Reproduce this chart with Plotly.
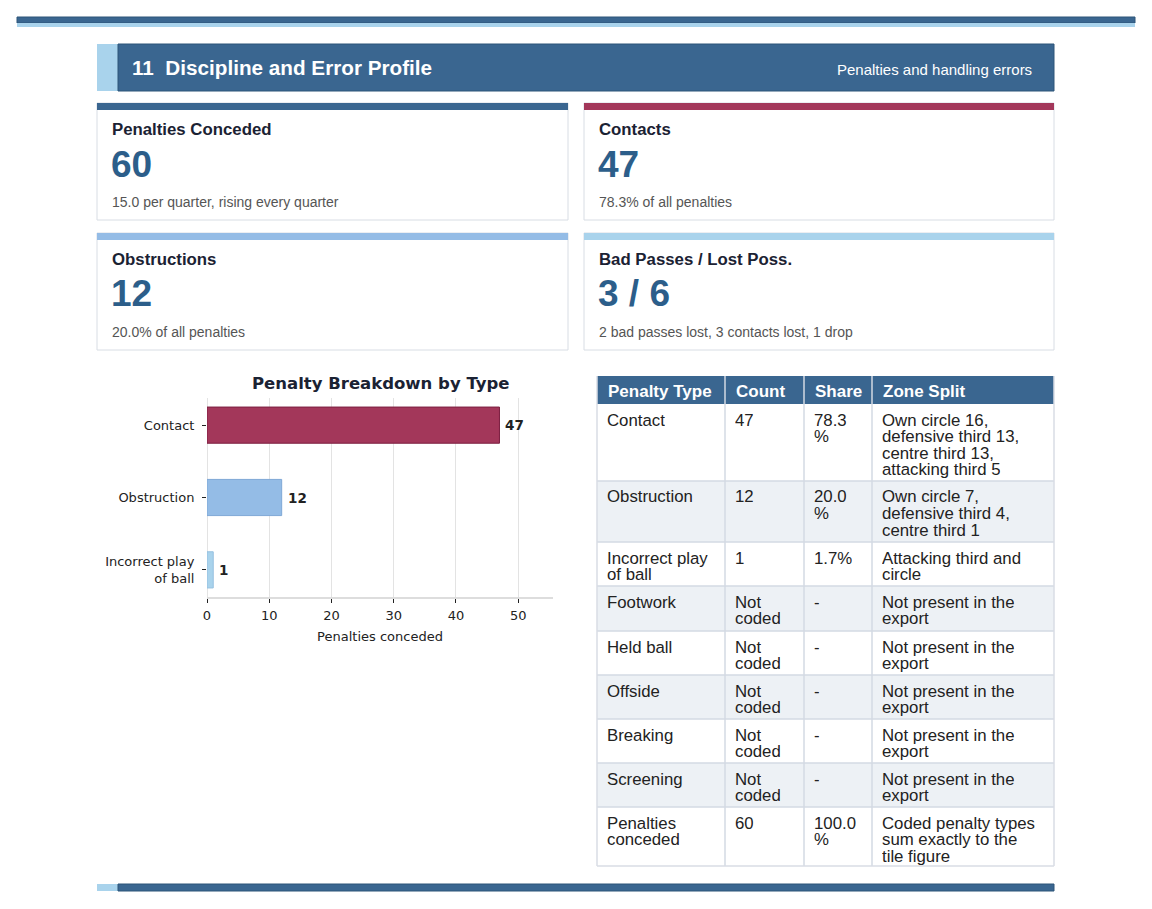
import plotly.graph_objects as go

W, H = 1152, 909

# section header
section_title = "11\u00a0\u00a0Discipline and Error Profile"
section_sub = "Penalties and handling errors"

# kpi tiles
kpi_titles = ["Penalties Conceded", "Contacts", "Obstructions", "Bad Passes / Lost Poss."]
kpi_values = ["60", "47", "12", "3 / 6"]
kpi_notes = ["15.0 per quarter, rising every quarter", "78.3% of all penalties",
             "20.0% of all penalties", "2 bad passes lost, 3 contacts lost, 1 drop"]
kpi_colors = ["#3A6690", "#A3375A", "#94BCE6", "#A9D3EC"]

# bar chart
penalty_types = ["Contact", "Obstruction", "Incorrect play<br>of ball"]
penalty_counts = [47, 12, 1]
bar_colors = ["#A3375A", "#94BCE6", "#A9D3EC"]
bar_edges = ["#7C1F40", "#7FA8D6", "#95C0E0"]

# table
table_header = ["Penalty Type", "Count", "Share", "Zone Split"]
table_type = ["Contact", "Obstruction", "Incorrect play<br>of ball", "Footwork", "Held ball",
              "Offside", "Breaking", "Screening", "Penalties<br>conceded"]
table_count = ["47", "12", "1", "Not<br>coded", "Not<br>coded", "Not<br>coded", "Not<br>coded",
               "Not<br>coded", "60"]
table_share = ["78.3<br>%", "20.0<br>%", "1.7%", "-", "-", "-", "-", "-", "100.0<br>%"]
table_zone = ["Own circle 16,<br>defensive third 13,<br>centre third 13,<br>attacking third 5",
              "Own circle 7,<br>defensive third 4,<br>centre third 1",
              "Attacking third and<br>circle",
              "Not present in the<br>export", "Not present in the<br>export",
              "Not present in the<br>export", "Not present in the<br>export",
              "Not present in the<br>export",
              "Coded penalty types<br>sum exactly to the<br>tile figure"]

NAVY = "#3A6690"
VALUE_BLUE = "#2C5E8A"
DARK = "#1B2233"
SANS = "Liberation Sans, Arial, sans-serif"
DJV = "DejaVu Sans, sans-serif"


def fx(px):
    return px / W


def fy(py):
    return 1 - py / H


shapes = []
annotations = []


def rect(x0, y0, x1, y1, fill, line=None, lw=1):
    shapes.append(dict(type="rect", xref="paper", yref="paper",
                       x0=fx(x0), x1=fx(x1), y0=fy(y1), y1=fy(y0),
                       fillcolor=fill, layer="below",
                       line=dict(color=line or fill, width=lw if line else 0)))


def text(px, py, s, size, color=DARK, bold=False, family=SANS, anchor="left", **kw):
    annotations.append(dict(xref="paper", yref="paper", x=fx(px), y=fy(py),
                            text="<b>%s</b>" % s if bold else s, showarrow=False,
                            xanchor=anchor, yanchor="middle",
                            font=dict(size=size, color=color, family=family), **kw))


# top rule
rect(17, 17, 1135, 23, NAVY, "#2C5478")
rect(17, 23, 1135, 27, "#A9D3EC")

# section header
rect(97, 44, 118, 91, "#A9D3EC")
rect(118, 44, 1054, 91, NAVY, "#2C5478")
text(130, 68, section_title, 20.7, "white", bold=True)
text(1034, 69, section_sub, 15, "white", anchor="right")

# kpi tiles
card_x = [(97, 568), (584, 1054)]
card_y = [103, 233]
for i in range(4):
    x0, x1 = card_x[i % 2]
    top = card_y[i // 2]
    rect(x0, top, x1, top + 117, "white", "#D8DDE4")
    rect(x0, top, x1, top + 7, kpi_colors[i])
    text(x0 + 13, top + 26, kpi_titles[i], 16.8, DARK, bold=True)
    text(x0 + 12, top + 61, kpi_values[i], 37, VALUE_BLUE, bold=True)
    text(x0 + 13, top + 99, kpi_notes[i], 14, "#555555")

# table
col_x = [597, 725, 804, 872, 1054]
head_top, head_h = 376, 28
row_h = [77, 61, 44, 45, 44, 44, 44, 44, 59]
columns = [table_type, table_count, table_share, table_zone]

rect(col_x[0], head_top, col_x[-1], head_top + head_h, NAVY)
for c, h in enumerate(table_header):
    text(col_x[c] + 9, head_top + 15, h, 17, "white", bold=True)

y = head_top + head_h
for r, rh in enumerate(row_h):
    rect(col_x[0], y, col_x[-1], y + rh, "#EDF1F5" if r % 2 else "white")
    for c, col in enumerate(columns):
        for k, line in enumerate(col[r].split("<br>")):
            # tight line boxes so stacked lines sit 16.5px apart like the reference
            text(col_x[c] + 9, y + 17 + k * 16.5, line, 16.8, "#222222",
                 height=16.5, valign="bottom", borderpad=0)
    y += rh
table_bottom = y

# table grid lines
y = head_top + head_h
for rh in row_h[:-1]:
    y += rh
    shapes.append(dict(type="line", xref="paper", yref="paper", x0=fx(col_x[0]), x1=fx(col_x[-1]),
                       y0=fy(y), y1=fy(y), line=dict(color="#D3DAE3", width=1.5)))
for cx in col_x:
    shapes.append(dict(type="line", xref="paper", yref="paper", x0=fx(cx), x1=fx(cx),
                       y0=fy(head_top), y1=fy(table_bottom),
                       line=dict(color="#D3DAE3" if cx not in (col_x[0], col_x[-1]) else "#D8DDE4",
                                 width=1.5)))
shapes.append(dict(type="line", xref="paper", yref="paper", x0=fx(col_x[0]), x1=fx(col_x[-1]),
                   y0=fy(table_bottom), y1=fy(table_bottom), line=dict(color="#D8DDE4", width=1.5)))

# bottom rule
rect(97, 884, 118, 891, "#A9D3EC")
rect(118, 884, 1054, 891, NAVY, "#2C5478")

# chart title
text(380, 383, "Penalty Breakdown by Type", 16.5, DARK, bold=True, family=DJV, anchor="center")

# bar value labels
for cat, v in zip(penalty_types, penalty_counts):
    annotations.append(dict(xref="x", yref="y", x=v, y=cat, text="<b>%d</b>" % v,
                            showarrow=False, xanchor="left", yanchor="middle", xshift=4,
                            font=dict(size=13.5, color="#222222", family=DJV)))

fig = go.Figure()
fig.add_trace(go.Bar(
    x=penalty_counts, y=penalty_types, orientation="h", width=0.5,
    marker=dict(color=bar_colors, line=dict(color=bar_edges, width=1)),
    hoverinfo="skip",
))

fig.update_xaxes(
    domain=[fx(207), fx(553)], range=[0, 55.6],
    tickvals=[0, 10, 20, 30, 40, 50], showgrid=True, gridcolor="#E3E3E3", gridwidth=1,
    zeroline=True, zerolinecolor="#E3E3E3", zerolinewidth=1,
    showline=True, linecolor="#DDDDDD", linewidth=1.5,
    ticks="outside", ticklen=4, tickcolor="#222222",
    tickfont=dict(size=13, color="#222222", family=DJV),
    ticklabelstandoff=2,
    title=dict(text="Penalties conceded", font=dict(size=13, color="#222222", family=DJV), standoff=10),
)
fig.update_yaxes(
    domain=[fy(597), fy(398)], range=[2.375, -0.375],
    categoryorder="array", categoryarray=penalty_types,
    showgrid=False, zeroline=False, showline=False,
    ticks="outside", ticklen=4, tickcolor="#222222",
    tickfont=dict(size=13, color="#222222", family=DJV),
    ticklabelstandoff=5,
)

fig.update_layout(
    width=W, height=H, margin=dict(l=0, r=0, t=0, b=0, autoexpand=False),
    paper_bgcolor="white", plot_bgcolor="white",
    showlegend=False, shapes=shapes, annotations=annotations,
)

fig.write_html("out.html", config={"displayModeBar": False},
               post_script="document.body.style.margin='0';")
